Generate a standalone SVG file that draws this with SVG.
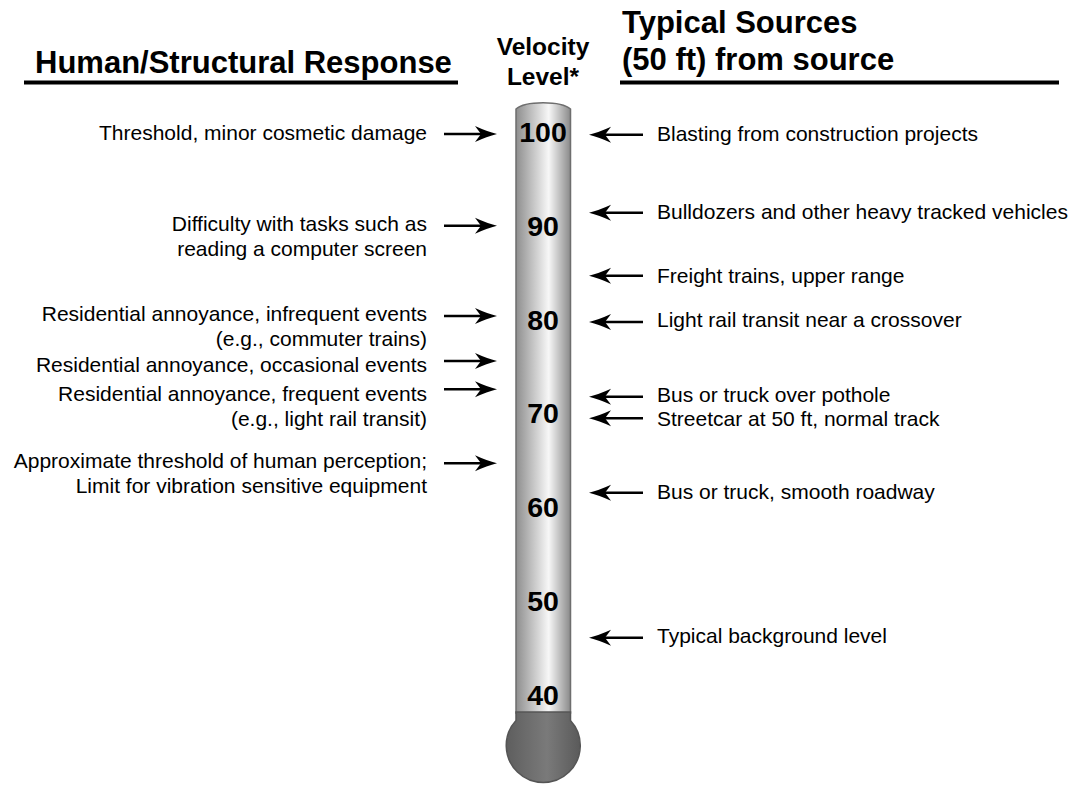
<svg xmlns="http://www.w3.org/2000/svg" xmlns:xlink="http://www.w3.org/1999/xlink" width="1076" height="785" viewBox="0 0 1076 785">
<style>
.hdr{font-family:"Liberation Sans",Arial,sans-serif;font-weight:bold;font-size:31px;fill:#000}
.vl{font-family:"Liberation Sans",Arial,sans-serif;font-weight:bold;font-size:24.5px;fill:#000;text-anchor:middle}
.num{font-family:"Liberation Sans",Arial,sans-serif;font-weight:bold;font-size:28.5px;fill:#000;text-anchor:middle}
.lt{font-family:"Liberation Sans",Arial,sans-serif;font-size:21px;fill:#000;text-anchor:end}
.rt{font-family:"Liberation Sans",Arial,sans-serif;font-size:21px;fill:#000}
.ul{stroke:#000;stroke-width:4}
.ar{stroke:#000;stroke-width:2.6;fill:none}
.ah{fill:#000}
</style>
<defs>
<linearGradient id="tubeG" x1="0" y1="0" x2="1" y2="0">
<stop offset="0" stop-color="#8e8e8e"/>
<stop offset="0.6" stop-color="#f7f7f7"/>
<stop offset="1" stop-color="#8a8a8a"/>
</linearGradient>
<linearGradient id="bulbG" x1="0" y1="0" x2="1" y2="0">
<stop offset="0" stop-color="#5e5e5e"/>
<stop offset="0.55" stop-color="#7a7a7a"/>
<stop offset="1" stop-color="#5a5a5a"/>
</linearGradient>
<path id="ahR" d="M0,0 Q-10,-2.5 -22,-8 L-16,0 L-22,8 Q-10,2.5 0,0Z"/>
<path id="ahL" d="M0,0 Q10,-2.5 22,-8 L16,0 L22,8 Q10,2.5 0,0Z"/>
</defs>
<rect width="1076" height="785" fill="#fff"/>

<g id="headers">
<text class="hdr" x="35" y="73">Human/Structural Response</text>
<line class="ul" x1="24" y1="82.5" x2="458" y2="82.5"/>
<text class="vl" x="543" y="55">Velocity</text>
<text class="vl" x="543" y="85">Level*</text>
<text class="hdr" x="622" y="33">Typical Sources</text>
<text class="hdr" x="622" y="70">(50 ft) from source</text>
<line class="ul" x1="620" y1="82.5" x2="1059" y2="82.5"/>
</g>

<g id="thermometer">
<path d="M516,713 L516,109 C525,100.5 561,100.5 570.5,109 L570.5,713 Z" fill="url(#tubeG)" stroke="#6e6e6e" stroke-width="1.5"/>
<path d="M516,712 H570.5 V720.5 A37,37 0 1 1 516,720.5 Z" fill="url(#bulbG)" stroke="#555" stroke-width="1.5"/>
<text class="num" x="543" y="141.7">100</text>
<text class="num" x="543" y="235.6">90</text>
<text class="num" x="543" y="329.5">80</text>
<text class="num" x="543" y="423.4">70</text>
<text class="num" x="543" y="517.3">60</text>
<text class="num" x="543" y="611.2">50</text>
<text class="num" x="543" y="705">40</text>
</g>

<g id="left-labels">
<g id="l-100"><text class="lt" x="427" y="140">Threshold, minor cosmetic damage</text></g>
<g id="l-90"><text class="lt" x="427" y="230.7">Difficulty with tasks such as</text><text class="lt" x="427" y="255.7">reading a computer screen</text></g>
<g id="l-80"><text class="lt" x="427" y="320.7">Residential annoyance, infrequent events</text><text class="lt" x="427" y="345.7">(e.g., commuter trains)</text></g>
<g id="l-75"><text class="lt" x="427" y="371.7">Residential annoyance, occasional events</text></g>
<g id="l-72"><text class="lt" x="427" y="401">Residential annoyance, frequent events</text><text class="lt" x="427" y="426">(e.g., light rail transit)</text></g>
<g id="l-65"><text class="lt" x="427" y="468">Approximate threshold of human perception;</text><text class="lt" x="427" y="492.7">Limit for vibration sensitive equipment</text></g>
</g>

<g id="right-labels">
<g id="r-100"><text class="rt" x="657" y="140.7">Blasting from construction projects</text></g>
<g id="r-92"><text class="rt" x="657" y="219.3">Bulldozers and other heavy tracked vehicles</text></g>
<g id="r-85"><text class="rt" x="657" y="282.7">Freight trains, upper range</text></g>
<g id="r-80"><text class="rt" x="657" y="327.3">Light rail transit near a crossover</text></g>
<g id="r-72"><text class="rt" x="657" y="401.7">Bus or truck over pothole</text></g>
<g id="r-70"><text class="rt" x="657" y="426">Streetcar at 50 ft, normal track</text></g>
<g id="r-62"><text class="rt" x="657" y="499">Bus or truck, smooth roadway</text></g>
<g id="r-48"><text class="rt" x="657" y="643.3">Typical background level</text></g>
</g>

<g id="connectors">
<line class="ar" x1="444" y1="134" x2="484" y2="134"/><use href="#ahR" class="ah" x="497" y="134"/>
<line class="ar" x1="444" y1="225.7" x2="484" y2="225.7"/><use href="#ahR" class="ah" x="497" y="225.7"/>
<line class="ar" x1="444" y1="316" x2="484" y2="316"/><use href="#ahR" class="ah" x="497" y="316"/>
<line class="ar" x1="444" y1="361" x2="484" y2="361"/><use href="#ahR" class="ah" x="497" y="361"/>
<line class="ar" x1="444" y1="389.3" x2="484" y2="389.3"/><use href="#ahR" class="ah" x="497" y="389.3"/>
<line class="ar" x1="444" y1="463.3" x2="484" y2="463.3"/><use href="#ahR" class="ah" x="497" y="463.3"/>

<line class="ar" x1="643" y1="134.7" x2="602" y2="134.7"/><use href="#ahL" class="ah" x="589" y="134.7"/>
<line class="ar" x1="643" y1="212.7" x2="602" y2="212.7"/><use href="#ahL" class="ah" x="589" y="212.7"/>
<line class="ar" x1="643" y1="275.7" x2="602" y2="275.7"/><use href="#ahL" class="ah" x="589" y="275.7"/>
<line class="ar" x1="643" y1="322" x2="602" y2="322"/><use href="#ahL" class="ah" x="589" y="322"/>
<line class="ar" x1="643" y1="396.7" x2="602" y2="396.7"/><use href="#ahL" class="ah" x="589" y="396.7"/>
<line class="ar" x1="643" y1="418.3" x2="602" y2="418.3"/><use href="#ahL" class="ah" x="589" y="418.3"/>
<line class="ar" x1="643" y1="492.7" x2="602" y2="492.7"/><use href="#ahL" class="ah" x="589" y="492.7"/>
<line class="ar" x1="643" y1="637.7" x2="602" y2="637.7"/><use href="#ahL" class="ah" x="589" y="637.7"/>
</g>
</svg>
